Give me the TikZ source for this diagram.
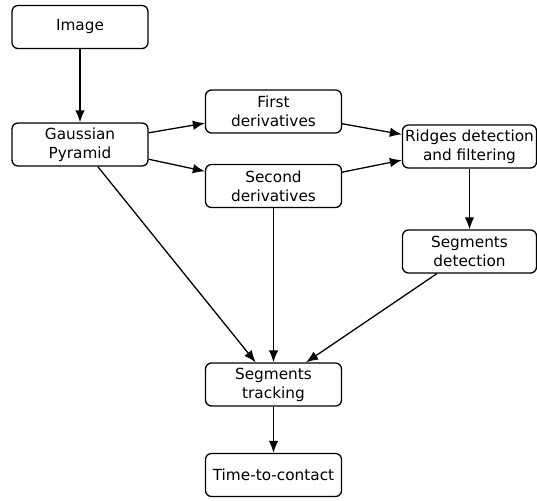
\documentclass[tikz,border=0pt]{standalone}
\usepackage{fontspec}
\setmainfont{DejaVu Sans}
\usetikzlibrary{arrows.meta}
\begin{document}
\begin{tikzpicture}[x=1pt,y=-1pt,
  box/.style={draw, line width=1.3pt, rounded corners=6pt, minimum width=136pt, minimum height=43pt, inner sep=0pt, align=center, font=\fontsize{15.3}{19}\selectfont},
  arr/.style={line width=1.3pt, -{Latex[length=12pt,width=9.5pt]}}]
\useasboundingbox (0,0) rectangle (537,500);
\node[box] (img) at (80,27) {Image};
\node[box] (gp) at (80,144.5) {Gaussian\\Pyramid};
\node[box] (fd) at (273.5,111.5) {First\\derivatives};
\node[box] (sd) at (273.5,186) {Second\\derivatives};
\node[box, minimum width=134pt] (rd) at (469.5,146.5) {Ridges detection\\and filtering};
\node[box, minimum width=134pt] (sg) at (469.5,251.5) {Segments\\detection};
\node[box] (st) at (273.5,384.5) {Segments\\tracking};
\node[box] (tc) at (273.5,475) {Time-to-contact};
\draw[arr] (img) -- (gp);
\draw[arr] (gp) -- (fd);
\draw[arr] (gp) -- (sd);
\draw[arr] (fd) -- (rd);
\draw[arr] (sd) -- (rd);
\draw[arr] (rd) -- (sg);
\draw[arr] (gp) -- (st);
\draw[arr] (sd) -- (st);
\draw[arr] (sg) -- (st);
\draw[arr] (st) -- (tc);
\end{tikzpicture}
\end{document}
